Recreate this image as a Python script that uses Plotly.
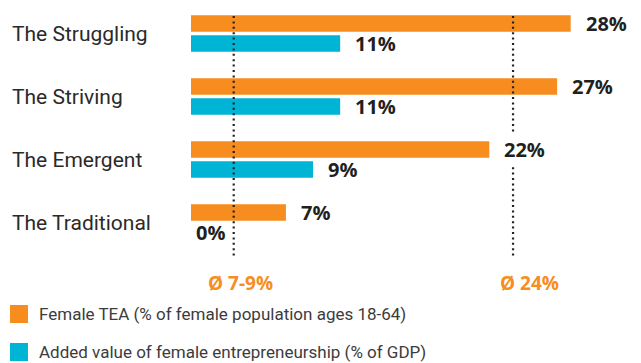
import plotly.graph_objects as go

# Segments and values (percent)
categories = ["The Struggling", "The Striving", "The Emergent", "The Traditional"]
female_tea = [28, 27, 22, 7]
added_value = [11, 11, 9, 0]
series_names = [
    "Female TEA (% of female population ages 18-64)",
    "Added value of female entrepreneurship (% of GDP)",
]
# Reference averages: position on the value axis and caption
ref_positions = [3.15, 23.75]
ref_labels = ["Ø 7-9%", "Ø 24%"]

ORANGE = "#F68D1E"
CYAN = "#00B4D5"
DARK = "#231F20"
GREY = "#3C3C3C"

W, H = 641, 363
ML, MR, MT, MB = 191, 0, 2, 109
PW, PH = W - ML - MR, H - MT - MB
PX_PER_UNIT = 13.56
X_MAX = PW / PX_PER_UNIT


def px_x(p):
    return (p - ML) / PW


def px_y(p):
    return 1 - (p - MT) / PH


fig = go.Figure()
fig.add_trace(go.Bar(y=categories, x=female_tea, orientation="h",
                     marker=dict(color=ORANGE, line=dict(width=0)),
                     name=series_names[0], hoverinfo="skip"))
fig.add_trace(go.Bar(y=categories, x=added_value, orientation="h",
                     marker=dict(color=CYAN, line=dict(width=0)),
                     name=series_names[1], hoverinfo="skip"))

# Segment names, left aligned at the page edge
for cat in categories:
    fig.add_annotation(x=px_x(10), y=cat, xref="paper", yref="y", text=cat,
                       showarrow=False, xanchor="left", yanchor="middle",
                       font=dict(family="Roboto", size=21, color="#2A2A2A"))

# Value labels to the right of each bar; a label crossing an average line
# gets a white box so the dotted line breaks around it
for series, dy in ((female_tea, 10), (added_value, -10)):
    for cat, v in zip(categories, series):
        text = f"{v}%"
        shift = 12 if v > 0 else 2
        lo = v + shift / PX_PER_UNIT
        hi = v + (shift + 13 * len(text)) / PX_PER_UNIT
        crosses = any(lo - 0.2 <= r <= hi for r in ref_positions)
        fig.add_annotation(x=v, y=cat, xref="x", yref="y", text=text,
                           showarrow=False, xanchor="left", yanchor="middle",
                           xshift=shift, yshift=dy,
                           bgcolor="white" if crosses else "rgba(0,0,0,0)",
                           borderpad=2,
                           font=dict(family="Open Sans", size=20, color=DARK,
                                     weight="bold"))

# Dotted average lines
for xv in ref_positions:
    fig.add_shape(type="line", xref="x", yref="paper", x0=xv, x1=xv,
                  y0=px_y(16), y1=px_y(257), layer="above",
                  line=dict(color="#222222", width=2.2, dash="2px,3.4px"))

for cx, lab in zip([240, 529], ref_labels):
    fig.add_annotation(x=px_x(cx), y=px_y(283), xref="paper", yref="paper",
                       text=lab, showarrow=False, xanchor="center",
                       yanchor="middle",
                       font=dict(family="Open Sans", size=19, color=ORANGE,
                                 weight="bold"))

# Legend drawn as swatches with captions
for (top, col, name) in ((305, ORANGE, series_names[0]),
                         (343, CYAN, series_names[1])):
    fig.add_shape(type="rect", xref="paper", yref="paper",
                  x0=px_x(10), x1=px_x(28), y0=px_y(top), y1=px_y(top + 18),
                  fillcolor=col, line=dict(width=0))
    fig.add_annotation(x=px_x(37), y=px_y(top + 9), xref="paper",
                       yref="paper", text=name, showarrow=False,
                       xanchor="left", yanchor="middle",
                       font=dict(family="Roboto", size=17, color=GREY))

fig.update_layout(
    width=W, height=H,
    margin=dict(l=ML, r=MR, t=MT, b=MB, pad=0),
    paper_bgcolor="white", plot_bgcolor="white",
    barmode="group", bargap=0.365, bargroupgap=0.165,
    showlegend=False,
    xaxis=dict(range=[0, X_MAX], visible=False, fixedrange=True),
    yaxis=dict(range=[3.5, -0.5], showgrid=False, zeroline=False,
               showline=False, showticklabels=False, ticks="",
               fixedrange=True),
)

fig.write_html("out.html")
